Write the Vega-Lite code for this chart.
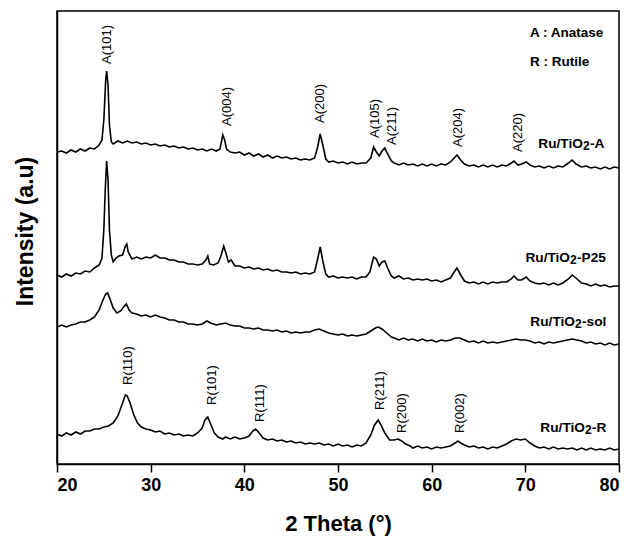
{
"$schema":"https://vega.github.io/schema/vega-lite/v6.json",
"width":562,"height":453,
"autosize":{"type":"none"},
"padding":{"left":57,"top":11,"right":9,"bottom":72},
"config":{"view":{"stroke":"black","strokeWidth":1.5},"font":"Liberation Sans"},
"datasets":{
"A":[[20,312],[20.5,313],[21,311],[21.5,314],[22,312],[22.5,315],[23,313],[23.5,316],[24,315],[24.5,319],[24.8,324],[25.0,344],[25.2,384],[25.3,393],[25.45,379],[25.6,339],[25.8,322],[26,320],[26.5,323],[27,321],[27.5,323],[28,321],[28.5,322],[29,320],[29.5,321],[30,319],[30.5,320],[31,318],[31.5,319],[32,317],[32.5,318],[33,316],[33.5,317],[34,315],[34.5,316],[35,314],[35.5,315],[36,313],[36.5,315],[37,313],[37.4,315],[37.7,329],[37.9,324],[38.1,315],[38.5,312],[39,311],[39.5,312],[40,309],[40.5,311],[41,308],[41.5,310],[42,307],[42.5,309],[43,306],[43.5,308],[44,306],[44.5,307],[45,305],[45.5,306],[46,304],[46.5,305],[47,304],[47.5,306],[47.8,316],[48.1,330],[48.4,318],[48.7,305],[49,302],[49.5,303],[50,301],[50.5,302],[51,300],[51.5,302],[52,300],[52.5,301],[53,301],[53.5,306],[53.8,317],[54.1,312],[54.4,308],[54.7,313],[55.0,316],[55.3,310],[55.7,303],[56,301],[56.5,299],[57,301],[57.5,299],[58,300],[58.5,298],[59,300],[59.5,298],[60,300],[60.5,298],[61,300],[61.5,299],[62,302],[62.4,306],[62.7,309],[63.1,304],[63.5,300],[64,298],[64.5,299],[65,297],[65.5,299],[66,297],[66.5,299],[67,297],[67.5,299],[68,298],[68.5,301],[68.8,303],[69.2,299],[69.6,300],[70.1,302],[70.5,299],[71,297],[71.5,298],[72,296],[72.5,298],[73,296],[73.5,298],[74,297],[74.6,301],[75,304],[75.4,300],[76,297],[76.5,298],[77,296],[77.5,297],[78,295],[78.5,297],[79,295],[79.5,297],[80,296]],
"P":[[20,189],[20.5,187],[21,190],[21.5,188],[22,191],[22.5,190],[23,193],[23.5,192],[24,196],[24.5,199],[24.8,206],[25.0,234],[25.15,274],[25.3,303],[25.45,284],[25.6,234],[25.8,209],[26,202],[26.3,206],[26.6,208],[27.0,209],[27.3,218],[27.45,220],[27.6,212],[28,205],[28.5,207],[29,205],[29.5,207],[30,206],[30.5,209],[31,206],[31.5,206],[32,204],[32.5,204],[33,202],[33.5,202],[34,200],[34.5,200],[35,199],[35.5,200],[35.9,204],[36.1,208],[36.3,200],[36.7,199],[37.2,201],[37.5,208],[37.8,218],[38.0,212],[38.3,202],[38.6,204],[39,198],[39.5,198],[40,196],[40.5,197],[41,195],[41.5,196],[42,194],[42.5,195],[43,193],[43.5,194],[44,192],[44.5,192],[45,191],[45.5,192],[46,190],[46.5,191],[47,190],[47.5,192],[47.8,204],[48.1,217],[48.4,202],[48.7,190],[49,187],[49.5,188],[50,186],[50.5,187],[51,186],[51.5,187],[52,185],[52.5,187],[53,187],[53.4,192],[53.8,207],[54.1,205],[54.4,198],[54.7,202],[55.0,203],[55.3,196],[55.7,188],[56,186],[56.5,188],[57,185],[57.5,186],[58,184],[58.5,185],[59,184],[59.5,185],[60,183],[60.5,184],[61,182],[61.5,184],[62,186],[62.4,192],[62.7,196],[63.1,189],[63.5,183],[64,181],[64.5,182],[65,180],[65.5,182],[66,180],[66.5,182],[67,181],[67.5,182],[68,182],[68.5,185],[68.8,188],[69.2,184],[69.6,184],[70.1,187],[70.5,183],[71,181],[71.5,180],[72,181],[72.5,179],[73,181],[73.5,179],[74,181],[74.6,185],[75,189],[75.4,186],[76,181],[76.5,180],[77,178],[77.5,180],[78,178],[78.5,179],[79,177],[79.5,178],[80,178]],
"S":[[20,137],[20.5,139],[21,137],[21.5,139],[22,140],[22.5,142],[23,142],[23.5,144],[24,147],[24.5,154],[24.9,164],[25.2,170],[25.4,171],[25.7,164],[26,156],[26.4,151],[26.8,153],[27.1,157],[27.4,160],[27.7,154],[28,151],[28.5,150],[29,148],[29.5,149],[30,147],[30.5,149],[31,147],[31.5,146],[32,144],[32.5,144],[33,142],[33.5,142],[34,140],[34.5,140],[35,139],[35.5,140],[36,143],[36.4,141],[37,139],[37.5,140],[38,141],[38.5,139],[39,138],[39.5,138],[40,136],[40.5,136],[41,135],[41.5,136],[42,134],[42.5,134],[43,133],[43.5,134],[44,132],[44.5,133],[45,131],[45.5,132],[46,131],[46.5,132],[47,132],[47.5,134],[48,135],[48.5,133],[49,131],[49.5,130],[50,129],[50.5,130],[51,128],[51.5,129],[52,128],[52.5,129],[53,130],[53.5,133],[54,136],[54.3,137],[54.7,135],[55.2,131],[55.7,127],[56,126],[56.5,124],[57,126],[57.5,124],[58,125],[58.5,123],[59,125],[59.5,123],[60,124],[60.5,122],[61,124],[61.5,123],[62,124],[62.5,126],[63,126],[63.5,124],[64,122],[64.5,123],[65,121],[65.5,123],[66,121],[66.5,122],[67,121],[67.5,122],[68,123],[68.5,124],[69,125],[69.5,124],[70,124],[70.5,123],[71,121],[71.5,122],[72,120],[72.5,122],[73,121],[73.5,122],[74,123],[74.5,124],[75,125],[75.5,124],[76,123],[76.5,121],[77,122],[77.5,120],[78,121],[78.5,119],[79,121],[79.5,119],[80,120]],
"R":[[20,30],[20.5,28],[21,31],[21.5,29],[22,32],[22.5,30],[23,33],[23.5,33],[24,35],[24.5,35],[25,37],[25.5,38],[26,41],[26.5,48],[27,61],[27.3,69],[27.5,68],[27.8,61],[28.2,49],[28.6,41],[29,37],[29.5,35],[30,34],[30.5,32],[31,33],[31.5,30],[32,31],[32.5,29],[33,30],[33.5,28],[34,29],[34.5,28],[35,31],[35.5,36],[35.8,44],[36.1,47],[36.4,40],[36.8,31],[37.2,27],[37.7,25],[38,27],[38.5,25],[39,27],[39.5,25],[40,26],[40.5,28],[40.9,33],[41.2,35],[41.5,32],[42,26],[42.5,24],[43,25],[43.5,23],[44,24],[44.5,22],[45,23],[45.5,21],[46,22],[46.5,20],[47,21],[47.5,20],[48,21],[48.5,19],[49,20],[49.5,18],[50,20],[50.5,18],[51,19],[51.5,17],[52,19],[52.5,18],[53,21],[53.5,29],[53.9,39],[54.3,44],[54.6,39],[55,31],[55.5,24],[56,24],[56.4,25],[56.8,23],[57.2,20],[57.7,18],[58,16],[58.5,18],[59,16],[59.5,17],[60,15],[60.5,17],[61,16],[61.5,17],[62,18],[62.5,21],[62.8,23],[63.1,21],[63.5,19],[64,17],[64.5,18],[65,16],[65.5,17],[66,15],[66.5,17],[67,16],[67.5,18],[68,20],[68.5,23],[69,25],[69.5,24],[70,25],[70.5,21],[71,18],[71.5,16],[72,17],[72.5,15],[73,17],[73.5,15],[74,16],[74.5,15],[75,16],[75.5,14],[76,16],[76.5,14],[77,16],[77.5,14],[78,15],[78.5,14],[79,16],[79.5,14],[80,15]]
},
"layer":[
{"data":{"name":"A"},"mark":{"type":"line","color":"black","strokeWidth":1.6},
 "encoding":{"x":{"field":"0","type":"quantitative","scale":{"domain":[20,80],"nice":false},
   "axis":{"title":"2 Theta (°)","values":[20,30,40,50,60,70,80],"grid":false,"domainColor":"black","domainWidth":1.5,"tickColor":"black","tickWidth":1.5,"tickSize":8,"labelFont":"Liberation Sans","labelFontSize":18,"labelFontWeight":"bold","labelColor":"black","labelPadding":4,"titleFont":"Liberation Sans","titleFontSize":22,"titleFontWeight":"bold","titleColor":"black","titlePadding":19}},
  "y":{"field":"1","type":"quantitative","scale":{"domain":[0,453],"nice":false},
   "axis":{"title":"Intensity (a.u)","grid":false,"labels":false,"ticks":false,"domainColor":"black","domainWidth":1.5,"titleFont":"Liberation Sans","titleFontSize":23,"titleFontWeight":"bold","titleColor":"black","titlePadding":20,"titleY":220}}}},
{"data":{"name":"P"},"mark":{"type":"line","color":"black","strokeWidth":1.6},"encoding":{"x":{"field":"0","type":"quantitative"},"y":{"field":"1","type":"quantitative"}}},
{"data":{"name":"S"},"mark":{"type":"line","color":"black","strokeWidth":1.6},"encoding":{"x":{"field":"0","type":"quantitative"},"y":{"field":"1","type":"quantitative"}}},
{"data":{"name":"R"},"mark":{"type":"line","color":"black","strokeWidth":1.6},"encoding":{"x":{"field":"0","type":"quantitative"},"y":{"field":"1","type":"quantitative"}}},
{"data":{"values":[
 {"t":25.34,"i":400,"lab":"A(101)"},{"t":38.15,"i":338,"lab":"A(004)"},{"t":48.08,"i":341,"lab":"A(200)"},{"t":53.95,"i":326,"lab":"A(105)"},{"t":55.76,"i":319,"lab":"A(211)"},{"t":62.81,"i":317,"lab":"A(204)"},{"t":69.2,"i":312,"lab":"A(220)"},
 {"t":27.58,"i":79,"lab":"R(110)"},{"t":36.55,"i":59,"lab":"R(101)"},{"t":41.67,"i":42,"lab":"R(111)"},{"t":54.48,"i":54,"lab":"R(211)"},{"t":56.83,"i":31,"lab":"R(200)"},{"t":63.02,"i":31,"lab":"R(002)"}]},
 "mark":{"type":"text","angle":270,"align":"left","baseline":"middle","fontSize":13,"font":"Liberation Sans","color":"black"},
 "encoding":{"x":{"field":"t","type":"quantitative"},"y":{"field":"i","type":"quantitative"},"text":{"field":"lab"}}},
{"data":{"values":[{"t":70.5,"i":427,"lab":"A : Anatase"},{"t":70.5,"i":398,"lab":"R : Rutile"}]},
 "mark":{"type":"text","align":"left","baseline":"alphabetic","fontSize":13.5,"fontWeight":"bold","font":"Liberation Sans","color":"black"},
 "encoding":{"x":{"field":"t","type":"quantitative"},"y":{"field":"i","type":"quantitative"},"text":{"field":"lab"}}},
{"data":{"name":"labs","values":[{"t":76.15,"i":316,"pre":"Ru/TiO","sub":"2","suf":"-A"},{"t":74.77,"i":202,"pre":"Ru/TiO","sub":"2","suf":"-P25"},{"t":75.3,"i":138,"pre":"Ru/TiO","sub":"2","suf":"-sol"},{"t":76.37,"i":32,"pre":"Ru/TiO","sub":"2","suf":"-R"}]},
 "layer":[
  {"mark":{"type":"text","align":"right","baseline":"alphabetic","fontSize":13.7,"fontWeight":"bold","font":"Liberation Sans","color":"black"},
   "encoding":{"x":{"field":"t","type":"quantitative"},"y":{"field":"i","type":"quantitative"},"text":{"field":"pre"}}},
  {"mark":{"type":"text","align":"left","baseline":"alphabetic","dy":2,"fontSize":12,"fontWeight":"bold","font":"Liberation Sans","color":"black"},
   "encoding":{"x":{"field":"t","type":"quantitative"},"y":{"field":"i","type":"quantitative"},"text":{"field":"sub"}}},
  {"mark":{"type":"text","align":"left","baseline":"alphabetic","dx":7,"fontSize":13.7,"fontWeight":"bold","font":"Liberation Sans","color":"black"},
   "encoding":{"x":{"field":"t","type":"quantitative"},"y":{"field":"i","type":"quantitative"},"text":{"field":"suf"}}}
 ]}
]
}
